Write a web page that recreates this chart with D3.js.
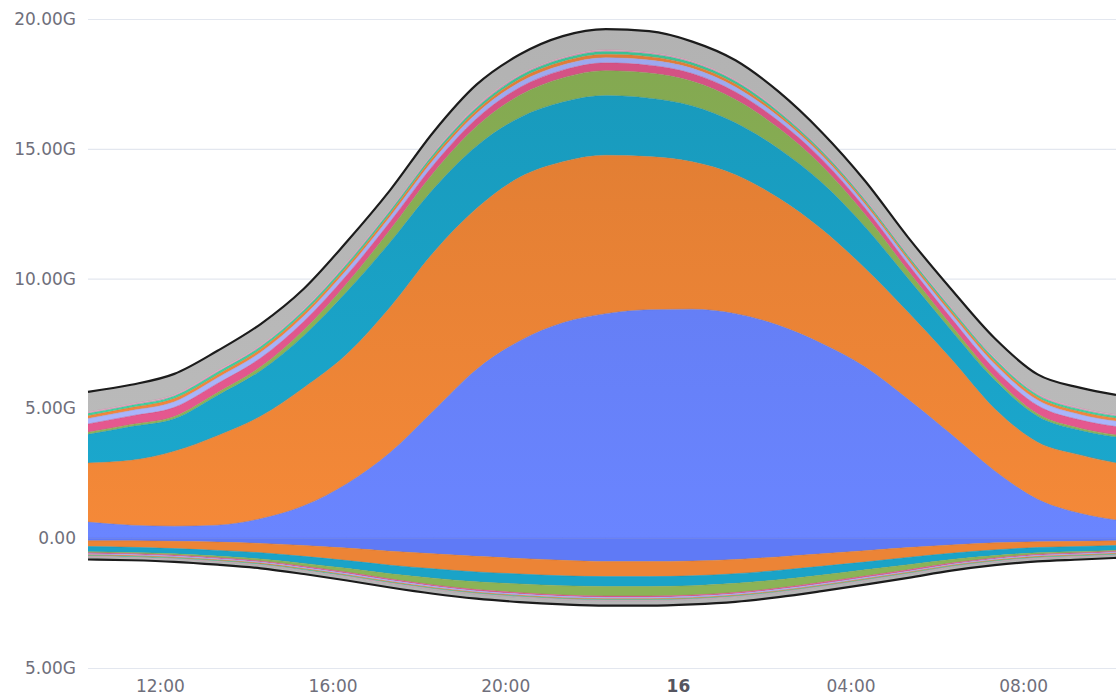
<!DOCTYPE html>
<html lang="en">
<head>
<meta charset="UTF-8">
<title>Traffic</title>
<script src="https://d3js.org/d3.v7.min.js"></script>
<style>
  body { margin: 0; background: #fff; }
  svg text { font-family: "DejaVu Sans", sans-serif; }
</style>
</head>
<body>
<div id="chart"></div>
<script>
// sample times (hourly, window 15th 10:20 -> 16th 10:09)
var times = ["2021-01-15T10:20","2021-01-15T11:20","2021-01-15T12:20","2021-01-15T13:20","2021-01-15T14:20",
  "2021-01-15T15:20","2021-01-15T16:20","2021-01-15T17:20","2021-01-15T18:20","2021-01-15T19:20",
  "2021-01-15T20:20","2021-01-15T21:20","2021-01-15T22:20","2021-01-15T23:20","2021-01-16T00:20",
  "2021-01-16T01:20","2021-01-16T02:20","2021-01-16T03:20","2021-01-16T04:20","2021-01-16T05:20",
  "2021-01-16T06:20","2021-01-16T07:20","2021-01-16T08:20","2021-01-16T09:20","2021-01-16T10:09"];

// inbound (G), bottom to top
var inBlue    = [0.62,0.5,0.46,0.5,0.75,1.25,2.1,3.3,4.9,6.5,7.6,8.3,8.65,8.8,8.82,8.65,8.2,7.5,6.6,5.35,4.0,2.6,1.5,0.95,0.7];
var inOrange  = [2.28,2.5,2.89,3.45,3.95,4.55,5.0,5.6,6.1,6.2,6.3,6.2,6.1,5.9,5.68,5.35,4.9,4.4,3.8,3.35,2.9,2.4,2.2,2.25,2.2];
var inTeal    = [1.1,1.3,1.25,1.55,1.75,2.0,2.4,2.5,2.45,2.4,2.3,2.3,2.3,2.25,2.15,2.0,1.9,1.8,1.6,1.3,1.1,1.1,1.0,0.95,1.0];
var inGreen   = [0.08,0.08,0.09,0.11,0.15,0.22,0.32,0.48,0.62,0.76,0.86,0.93,0.96,0.97,0.95,0.9,0.8,0.65,0.48,0.3,0.2,0.12,0.09,0.08,0.08];
var inPink    = [0.32,0.33,0.35,0.35,0.34,0.33,0.32,0.31,0.3,0.3,0.3,0.3,0.3,0.3,0.3,0.29,0.27,0.25,0.24,0.25,0.27,0.3,0.32,0.32,0.32];
var inLav     = [0.21,0.21,0.22,0.22,0.22,0.21,0.21,0.2,0.2,0.2,0.2,0.2,0.2,0.2,0.2,0.19,0.17,0.15,0.15,0.16,0.18,0.2,0.21,0.21,0.21];
var inOrange2 = [0.11,0.11,0.12,0.12,0.12,0.12,0.12,0.12,0.12,0.12,0.13,0.13,0.13,0.13,0.12,0.12,0.1,0.09,0.09,0.09,0.1,0.11,0.11,0.11,0.11];
var inMint    = [0.09,0.09,0.1,0.1,0.1,0.1,0.1,0.1,0.1,0.1,0.11,0.11,0.11,0.11,0.1,0.1,0.09,0.08,0.08,0.08,0.09,0.09,0.09,0.09,0.09];
var inPink2   = [0.05,0.05,0.05,0.06,0.05,0.05,0.06,0.05,0.05,0.06,0.05,0.05,0.06,0.05,0.05,0.05,0.05,0.04,0.05,0.05,0.05,0.05,0.05,0.05,0.05];
var inGrey    = [0.78,0.74,0.8,0.76,0.82,0.78,0.8,0.75,0.8,0.83,0.78,0.82,0.8,0.82,0.76,0.76,0.72,0.68,0.68,0.66,0.7,0.74,0.74,0.78,0.76];

// outbound (G), from zero downwards
var outBlue    = [0.1,0.1,0.12,0.15,0.2,0.28,0.38,0.5,0.6,0.7,0.78,0.85,0.9,0.9,0.88,0.82,0.72,0.6,0.48,0.36,0.26,0.18,0.14,0.12,0.1];
var outOrange  = [0.22,0.25,0.28,0.32,0.36,0.42,0.48,0.54,0.58,0.6,0.6,0.6,0.58,0.58,0.57,0.55,0.52,0.48,0.44,0.38,0.32,0.27,0.22,0.2,0.18];
var outTeal    = [0.2,0.2,0.2,0.22,0.24,0.27,0.3,0.33,0.36,0.38,0.38,0.38,0.38,0.38,0.38,0.37,0.36,0.34,0.3,0.28,0.24,0.22,0.2,0.19,0.18];
var outGreen   = [0.04,0.04,0.05,0.06,0.08,0.11,0.15,0.2,0.26,0.3,0.34,0.36,0.37,0.37,0.36,0.35,0.32,0.28,0.24,0.2,0.14,0.09,0.06,0.05,0.04];
var outPink    = [0.04,0.04,0.04,0.04,0.04,0.05,0.05,0.05,0.05,0.05,0.05,0.05,0.05,0.05,0.05,0.05,0.05,0.05,0.05,0.05,0.04,0.04,0.04,0.04,0.04];
var outLav     = [0.04,0.04,0.04,0.04,0.04,0.04,0.05,0.05,0.05,0.05,0.05,0.05,0.05,0.05,0.05,0.05,0.05,0.05,0.05,0.04,0.04,0.04,0.04,0.04,0.04];
var outOrange2 = [0.03,0.03,0.03,0.03,0.03,0.03,0.03,0.03,0.03,0.03,0.03,0.03,0.03,0.03,0.03,0.03,0.03,0.03,0.03,0.03,0.03,0.03,0.03,0.03,0.03];
var outMint    = [0.03,0.03,0.03,0.03,0.03,0.03,0.03,0.03,0.03,0.03,0.03,0.03,0.03,0.03,0.03,0.03,0.03,0.03,0.03,0.03,0.03,0.03,0.03,0.03,0.03];
var outPink2   = [0.02,0.02,0.02,0.02,0.02,0.02,0.02,0.02,0.02,0.02,0.02,0.02,0.02,0.02,0.02,0.02,0.02,0.02,0.02,0.02,0.02,0.02,0.02,0.02,0.02];
var outGrey    = [0.1,0.1,0.1,0.11,0.12,0.13,0.14,0.15,0.16,0.17,0.18,0.18,0.19,0.19,0.18,0.18,0.17,0.16,0.15,0.14,0.13,0.12,0.11,0.1,0.1];

var yTicks = [-5, 0, 5, 10, 15, 20];

var keys   = ["blue","orange","teal","green","pink","lav","orange2","mint","pink2","grey"];
var colors = ["#6680fb","#ec8436","#1aa3c8","#8cb356","#e2578d","#a7b3ff","#f0843a","#3fcf9f","#f59cc4","#b5b5b5"];
var inSeries  = [inBlue,inOrange,inTeal,inGreen,inPink,inLav,inOrange2,inMint,inPink2,inGrey];
var outSeries = [outBlue,outOrange,outTeal,outGreen,outPink,outLav,outOrange2,outMint,outPink2,outGrey];

var W = 1116, H = 700;
var plotLeft = 88, plotRight = 1116, plotTop = 19, plotBottom = 668;

var parse = d3.timeParse("%Y-%m-%dT%H:%M");
var dates = times.map(parse);

var inRows = dates.map(function(d, i) {
    var r = {date: d};
    keys.forEach(function(k, j) { r[k] = inSeries[j][i]; });
    return r;
});
var outRows = dates.map(function(d, i) {
    var r = {date: d};
    keys.forEach(function(k, j) { r[k] = -outSeries[j][i]; });
    return r;
});

var stack = d3.stack().keys(keys).offset(d3.stackOffsetDiverging);
var inStack = stack(inRows);
var outStack = stack(outRows);

var x = d3.scaleTime().domain(d3.extent(dates)).range([plotLeft, plotRight]);
var y = d3.scaleLinear().domain([-5, 20]).range([plotBottom, plotTop]);

var svg = d3.select("#chart").append("svg")
    .attr("width", W)
    .attr("height", H);

var defs = svg.append("defs");
keys.forEach(function(k, j) {
    var g = defs.append("linearGradient")
        .attr("id", "g-" + k)
        .attr("gradientUnits", "userSpaceOnUse")
        .attr("x1", 0).attr("x2", 0)
        .attr("y1", y(20)).attr("y2", y(0));
    var dk = k === "grey" ? 0.05 : 0.2;
    g.append("stop").attr("offset", 0).attr("stop-color", d3.color(colors[j]).darker(dk));
    g.append("stop").attr("offset", 1).attr("stop-color", d3.color(colors[j]).brighter(0.1));
});

// grid + y labels
var yAxis = d3.axisLeft(y)
    .tickValues(yTicks)
    .tickSize(-(plotRight - plotLeft))
    .tickPadding(12)
    .tickFormat(function(v) { return v === 0 ? "0.00" : Math.abs(v).toFixed(2) + "G"; });

var gy = svg.append("g")
    .attr("transform", "translate(" + plotLeft + ",0)")
    .call(yAxis);
gy.select(".domain").remove();
gy.selectAll("line").attr("stroke", "#e3e7ef").attr("stroke-width", 1.2);
gy.selectAll("text").attr("fill", "#6f6f7b").style("font-size", "17px");

var area = d3.area()
    .x(function(d) { return x(d.data.date); })
    .y0(function(d) { return y(d[0]); })
    .y1(function(d) { return y(d[1]); })
    .curve(d3.curveMonotoneX);

var edge = d3.line()
    .x(function(d) { return x(d.data.date); })
    .y(function(d) { return y(d[1]); })
    .curve(d3.curveMonotoneX);

svg.append("g").selectAll("path")
    .data(inStack)
    .enter().append("path")
    .attr("d", area)
    .attr("fill", function(d) { return "url(#g-" + d.key + ")"; });

svg.append("g").selectAll("path")
    .data(inStack)
    .enter().append("path")
    .attr("d", edge)
    .attr("fill", "none")
    .attr("stroke", function(d, i) { return d3.color(colors[i]).darker(0.4); })
    .attr("stroke-width", 0.8)
    .attr("stroke-opacity", 0.6);

svg.append("g").selectAll("path")
    .data(outStack)
    .enter().append("path")
    .attr("d", area)
    .attr("fill", function(d, i) { return i === 0 ? "#5f7af6" : colors[i]; });

svg.append("g").selectAll("path")
    .data(outStack)
    .enter().append("path")
    .attr("d", edge)
    .attr("fill", "none")
    .attr("stroke", function(d, i) { return d3.color(colors[i]).darker(0.4); })
    .attr("stroke-width", 0.8)
    .attr("stroke-opacity", 0.6);

// totals
svg.append("path")
    .datum(inStack[inStack.length - 1])
    .attr("d", edge)
    .attr("fill", "none")
    .attr("stroke", "#1c1c1c")
    .attr("stroke-width", 2.2);

svg.append("path")
    .datum(outStack[outStack.length - 1])
    .attr("d", d3.line()
        .x(function(d) { return x(d.data.date); })
        .y(function(d) { return y(d[0]); })
        .curve(d3.curveMonotoneX))
    .attr("fill", "none")
    .attr("stroke", "#1c1c1c")
    .attr("stroke-width", 2.2);

// x labels
var xAxis = d3.axisBottom(x)
    .ticks(d3.timeHour.every(4))
    .tickSize(0)
    .tickPadding(12)
    .tickFormat(function(d) { return d.getHours() === 0 ? d3.timeFormat("%d")(d) : d3.timeFormat("%H:%M")(d); });

var gx = svg.append("g")
    .attr("transform", "translate(0," + plotBottom + ")")
    .call(xAxis);
gx.select(".domain").remove();
gx.selectAll("text")
    .attr("fill", function(d) { return d.getHours() === 0 ? "#555560" : "#6f6f7b"; })
    .style("font-weight", function(d) { return d.getHours() === 0 ? "bold" : "normal"; })
    .style("font-size", "17px");
</script>
</body>
</html>
